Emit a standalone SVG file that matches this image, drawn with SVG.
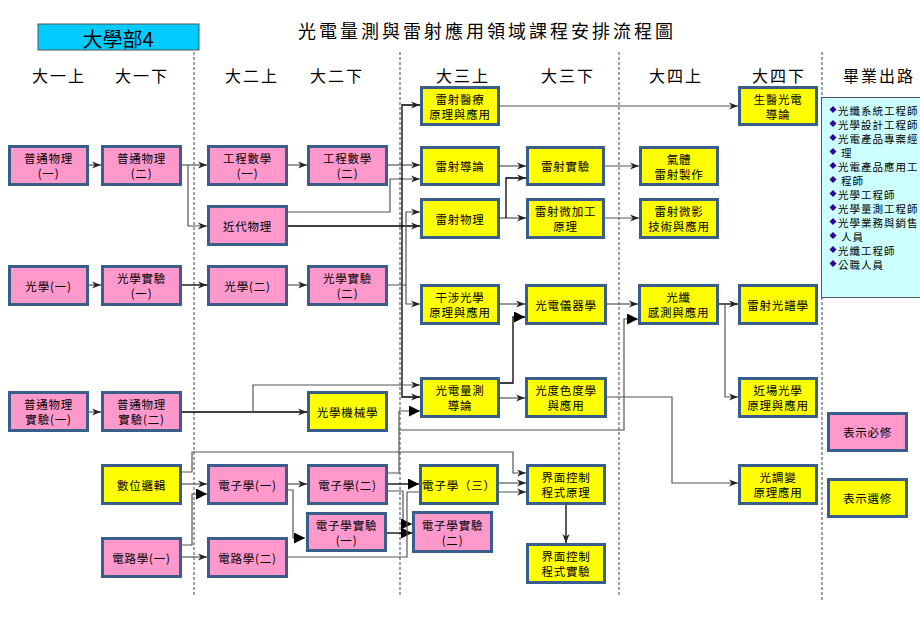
<svg xmlns="http://www.w3.org/2000/svg" width="920" height="637" viewBox="0 0 920 637">
<style>
text{font-family:"Noto Sans CJK TC","Noto Sans CJK SC",sans-serif;fill:#000;dominant-baseline:central}
.t{font-size:11.5px;text-anchor:middle;letter-spacing:0.8px}
.h{font-size:16px;text-anchor:middle;letter-spacing:2px}
.g{font-size:10.5px;letter-spacing:1px}
.p{fill:#ff99cc;stroke:#3a5e8c;stroke-width:3}
.y{fill:#ffff00;stroke:#3a5e8c;stroke-width:3}
.d{stroke:#444;stroke-width:1;stroke-dasharray:3 2;fill:none}
.c{fill:none;stroke:#555;stroke-width:1.2}
.k{fill:none;stroke:#000;stroke-width:1.3}
.ca{marker-end:url(#a)}
.cf{marker-end:url(#f)}
</style>
<defs>
<marker id="a" viewBox="0 0 10 10" refX="10" refY="5" markerWidth="9" markerHeight="9" markerUnits="userSpaceOnUse" orient="auto"><path d="M0,1 L10,5 L0,9 L3,5z" fill="#222"/></marker>
<marker id="f" viewBox="0 0 10 10" refX="10" refY="5" markerWidth="11" markerHeight="11" markerUnits="userSpaceOnUse" orient="auto"><path d="M0,0 L10,5 L0,10z" fill="#000"/></marker>
</defs>
<rect width="920" height="637" fill="#fff"/>

<!-- header -->
<g id="badge"><rect x="38" y="24" width="161" height="26" fill="#00ccff" stroke="#555" stroke-width="1"/><text x="118" y="38" style="font-size:20px;text-anchor:middle">大學部4</text></g>
<text x="487" y="30" style="font-size:18px;text-anchor:middle;letter-spacing:3px">光電量測與雷射應用領域課程安排流程圖</text>
<g id="semesters">
<text class="h" x="59" y="75">大一上</text>
<text class="h" x="142" y="75">大一下</text>
<text class="h" x="252" y="75">大二上</text>
<text class="h" x="337" y="75">大二下</text>
<text class="h" x="463" y="75">大三上</text>
<text class="h" x="568" y="75">大三下</text>
<text class="h" x="676" y="75">大四上</text>
<text class="h" x="779" y="75">大四下</text>
<text class="h" x="879" y="75">畢業出路</text>
</g>
<g id="dividers">
<path class="d" d="M194,52 V597 M400,52 V597 M619,52 V597 M822,52 V600"/>
</g>

<!-- connectors -->
<g id="connectors">
<path class="c ca" d="M89,165 H101"/>
<path class="c ca" d="M182,165 H207"/>
<path class="c ca" d="M188,165 V226 H207"/>
<path class="c ca" d="M288,165 H307"/>
<path class="c ca" d="M388,165 H420"/>
<path class="c ca" d="M288,212 H390 V179 H420"/>
<path class="k ca" d="M288,226 H420"/>
<path class="k ca" d="M402,226 V105 H420"/>
<path class="k ca" d="M402,226 V397 H420"/>
<path class="c ca" d="M388,285 H406 V212 H420"/>
<path class="c ca" d="M406,285 V304 H420"/>
<path class="c ca" d="M89,285 H101"/>
<path class="k ca" d="M182,285 H207"/>
<path class="c ca" d="M288,285 H307"/>
<path class="c ca" d="M89,412 H101"/>
<path class="k ca" d="M182,412 H307"/>
<path class="c ca" d="M253,412 V385 H420"/>
<path class="c ca" d="M182,472 H192 V452 H513 V473 H526"/>
<path class="c ca" d="M182,484 H207"/>
<path class="c cf" d="M182,545 H192 V494 H207"/>
<path class="c ca" d="M182,557 H207"/>
<path class="c ca" d="M288,484 H307"/>
<path class="c cf" d="M288,490 H293 V538 H305"/>
<path class="c cf" d="M388,473 H399 V411 H420"/>
<path class="c cf" d="M399,430 H624 V319 H638"/>
<path class="k cf" d="M388,484 H419"/>
<path class="c cf" d="M388,491 H403 V524 H412"/>
<path class="k cf" d="M386,533 H412"/>
<path class="c ca" d="M288,557 H407 V492 H526"/>
<path class="c ca" d="M499,483 H526"/>
<path class="k ca" d="M566,505 V543"/>
<path class="c ca" d="M500,106 H738"/>
<path class="c ca" d="M500,166 H526"/>
<path class="c ca" d="M500,218 H526"/>
<path class="k ca" d="M506,218 V178 H526"/>
<path class="c ca" d="M605,166 H639"/>
<path class="c ca" d="M605,218 H639"/>
<path class="c ca" d="M500,304 H525"/>
<path class="k cf" d="M500,383 H513 V317 H525"/>
<path class="c ca" d="M500,398 H525"/>
<path class="c ca" d="M607,304 H638"/>
<path class="k ca" d="M719,304 H738"/>
<path class="c ca" d="M725,304 V397 H738"/>
<path class="c ca" d="M607,397 H672 V483 H738"/>
</g>

<!-- nodes: required (pink) -->
<g id="n-phys1"><rect class="p" x="9.5" y="146.5" width="78" height="38"/><text class="t" x="48.5" y="158">普通物理<tspan x="48.5" dy="15">(一)</tspan></text></g>
<g id="n-phys2"><rect class="p" x="102.5" y="146.5" width="78" height="38"/><text class="t" x="141.5" y="158">普通物理<tspan x="141.5" dy="15">(二)</tspan></text></g>
<g id="n-math1"><rect class="p" x="208.5" y="146.5" width="78" height="38"/><text class="t" x="247.5" y="158">工程數學<tspan x="247.5" dy="15">(一)</tspan></text></g>
<g id="n-math2"><rect class="p" x="308.5" y="146.5" width="78" height="38"/><text class="t" x="347.5" y="158">工程數學<tspan x="347.5" dy="15">(二)</tspan></text></g>
<g id="n-modern"><rect class="p" x="208.5" y="206.5" width="78" height="38"/><text class="t" x="247.5" y="226">近代物理</text></g>
<g id="n-opt1"><rect class="p" x="9.5" y="266.5" width="78" height="38"/><text class="t" x="48.5" y="286">光學(一)</text></g>
<g id="n-optlab1"><rect class="p" x="102.5" y="266.5" width="78" height="38"/><text class="t" x="141.5" y="278">光學實驗<tspan x="141.5" dy="15">(一)</tspan></text></g>
<g id="n-opt2"><rect class="p" x="208.5" y="266.5" width="78" height="38"/><text class="t" x="247.5" y="286">光學(二)</text></g>
<g id="n-optlab2"><rect class="p" x="308.5" y="266.5" width="78" height="38"/><text class="t" x="347.5" y="278">光學實驗<tspan x="347.5" dy="15">(二)</tspan></text></g>
<g id="n-physlab1"><rect class="p" x="9.5" y="392.5" width="78" height="38"/><text class="t" x="48.5" y="404">普通物理<tspan x="48.5" dy="15">實驗(一)</tspan></text></g>
<g id="n-physlab2"><rect class="p" x="102.5" y="392.5" width="78" height="38"/><text class="t" x="141.5" y="404">普通物理<tspan x="141.5" dy="15">實驗(二)</tspan></text></g>
<g id="n-elec1"><rect class="p" x="208.5" y="465.5" width="78" height="38"/><text class="t" x="247.5" y="485">電子學(一)</text></g>
<g id="n-elec2"><rect class="p" x="308.5" y="465.5" width="78" height="38"/><text class="t" x="347.5" y="485">電子學(二)</text></g>
<g id="n-eleclab1"><rect class="p" x="307.5" y="513.5" width="78" height="37"/><text class="t" x="346.5" y="525">電子學實驗<tspan x="346.5" dy="15">(一)</tspan></text></g>
<g id="n-circ1"><rect class="p" x="102.5" y="538.5" width="78" height="38"/><text class="t" x="141.5" y="558">電路學(一)</text></g>
<g id="n-circ2"><rect class="p" x="208.5" y="538.5" width="78" height="38"/><text class="t" x="247.5" y="558">電路學(二)</text></g>
<g id="n-eleclab2"><rect class="p" x="413.5" y="512.5" width="78" height="39"/><text class="t" x="452.5" y="525">電子學實驗<tspan x="452.5" dy="15">(二)</tspan></text></g>

<!-- nodes: elective (yellow) -->
<g id="n-optmech"><rect class="y" x="308.5" y="392.5" width="78" height="38"/><text class="t" x="347.5" y="412">光學機械學</text></g>
<g id="n-digital"><rect class="y" x="102.5" y="465.5" width="78" height="38"/><text class="t" x="141.5" y="485">數位邏輯</text></g>
<g id="n-lasermed"><rect class="y" x="421.5" y="87.5" width="77" height="37"/><text class="t" x="460" y="99">雷射醫療<tspan x="460" dy="15">原理與應用</tspan></text></g>
<g id="n-laserintro"><rect class="y" x="421.5" y="147.5" width="77" height="37"/><text class="t" x="460" y="166">雷射導論</text></g>
<g id="n-laserphys"><rect class="y" x="421.5" y="199.5" width="77" height="38"/><text class="t" x="460" y="219">雷射物理</text></g>
<g id="n-laserlab"><rect class="y" x="527.5" y="147.5" width="76" height="37"/><text class="t" x="565.5" y="166">雷射實驗</text></g>
<g id="n-lasermicro"><rect class="y" x="527.5" y="199.5" width="76" height="38"/><text class="t" x="565.5" y="211">雷射微加工<tspan x="565.5" dy="15">原理</tspan></text></g>
<g id="n-gaslaser"><rect class="y" x="640.5" y="147.5" width="77" height="37"/><text class="t" x="679" y="159">氣體<tspan x="679" dy="15">雷射製作</tspan></text></g>
<g id="n-litho"><rect class="y" x="640.5" y="199.5" width="77" height="38"/><text class="t" x="679" y="211">雷射微影<tspan x="679" dy="15">技術與應用</tspan></text></g>
<g id="n-biophoto"><rect class="y" x="739.5" y="87.5" width="77" height="37"/><text class="t" x="778" y="99">生醫光電<tspan x="778" dy="15">導論</tspan></text></g>
<g id="n-interf"><rect class="y" x="421.5" y="285.5" width="77" height="38"/><text class="t" x="460" y="297">干涉光學<tspan x="460" dy="15">原理與應用</tspan></text></g>
<g id="n-instr"><rect class="y" x="526.5" y="285.5" width="79" height="38"/><text class="t" x="566" y="305">光電儀器學</text></g>
<g id="n-fiber"><rect class="y" x="639.5" y="285.5" width="78" height="38"/><text class="t" x="678.5" y="297">光纖<tspan x="678.5" dy="15">感測與應用</tspan></text></g>
<g id="n-spectro"><rect class="y" x="739.5" y="285.5" width="77" height="38"/><text class="t" x="778" y="305">雷射光譜學</text></g>
<g id="n-measure"><rect class="y" x="421.5" y="378.5" width="77" height="38"/><text class="t" x="460" y="390">光電量測<tspan x="460" dy="15">導論</tspan></text></g>
<g id="n-photometry"><rect class="y" x="526.5" y="378.5" width="79" height="38"/><text class="t" x="566" y="390">光度色度學<tspan x="566" dy="15">與應用</tspan></text></g>
<g id="n-nearfield"><rect class="y" x="739.5" y="378.5" width="77" height="38"/><text class="t" x="778" y="390">近場光學<tspan x="778" dy="15">原理與應用</tspan></text></g>
<g id="n-elec3"><rect class="y" x="420.5" y="465.5" width="77" height="38"/><text class="t" x="459" y="485">電子學（三）</text></g>
<g id="n-ifprog"><rect class="y" x="527.5" y="465.5" width="77" height="38"/><text class="t" x="566" y="477">界面控制<tspan x="566" dy="15">程式原理</tspan></text></g>
<g id="n-iflab"><rect class="y" x="527.5" y="544.5" width="77" height="38"/><text class="t" x="566" y="556">界面控制<tspan x="566" dy="15">程式實驗</tspan></text></g>
<g id="n-modul"><rect class="y" x="739.5" y="465.5" width="77" height="38"/><text class="t" x="778" y="477">光調變<tspan x="778" dy="15">原理應用</tspan></text></g>

<!-- careers -->
<g id="careers">
<rect x="821.5" y="97.5" width="100" height="200" fill="#ccffff" stroke="#556" stroke-width="1"/>
<g fill="#330099">
<path d="M833,106 l3.5,3.5 -3.5,3.5 -3.5,-3.5z"/>
<path d="M833,120 l3.5,3.5 -3.5,3.5 -3.5,-3.5z"/>
<path d="M833,134 l3.5,3.5 -3.5,3.5 -3.5,-3.5z"/>
<path d="M833,148 l3.5,3.5 -3.5,3.5 -3.5,-3.5z"/>
<path d="M833,162 l3.5,3.5 -3.5,3.5 -3.5,-3.5z"/>
<path d="M833,176 l3.5,3.5 -3.5,3.5 -3.5,-3.5z"/>
<path d="M833,190 l3.5,3.5 -3.5,3.5 -3.5,-3.5z"/>
<path d="M833,204 l3.5,3.5 -3.5,3.5 -3.5,-3.5z"/>
<path d="M833,218 l3.5,3.5 -3.5,3.5 -3.5,-3.5z"/>
<path d="M833,232 l3.5,3.5 -3.5,3.5 -3.5,-3.5z"/>
<path d="M833,246 l3.5,3.5 -3.5,3.5 -3.5,-3.5z"/>
<path d="M833,260 l3.5,3.5 -3.5,3.5 -3.5,-3.5z"/>
</g>
<text class="g" x="838" y="110">光纖系統工程師</text>
<text class="g" x="838" y="124">光學設計工程師</text>
<text class="g" x="838" y="138">光電產品專案經</text>
<text class="g" x="841" y="152">理</text>
<text class="g" x="838" y="166">光電產品應用工</text>
<text class="g" x="841" y="180">程師</text>
<text class="g" x="838" y="194">光學工程師</text>
<text class="g" x="838" y="208">光學量測工程師</text>
<text class="g" x="838" y="222">光學業務與銷售</text>
<text class="g" x="841" y="236">人員</text>
<text class="g" x="838" y="250">光纖工程師</text>
<text class="g" x="838" y="264">公職人員</text>
</g>

<!-- legend -->
<g id="legend-required"><rect class="p" x="828.5" y="413.5" width="78" height="37"/><text class="t" x="867.5" y="432">表示必修</text></g>
<g id="legend-elective"><rect class="y" x="828.5" y="479.5" width="78" height="37"/><text class="t" x="867.5" y="498">表示選修</text></g>
</svg>
